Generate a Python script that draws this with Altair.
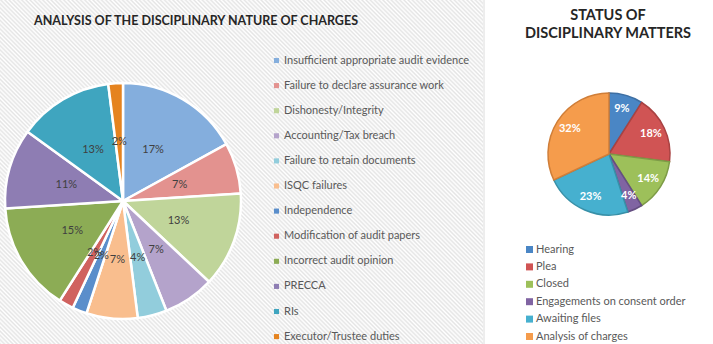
import altair as alt
import pandas as pd

# ---- data ----
left_title = "ANALYSIS OF THE DISCIPLINARY NATURE OF CHARGES"
left_categories = [
    "Insufficient appropriate audit evidence",
    "Failure to declare assurance work",
    "Dishonesty/Integrity",
    "Accounting/Tax breach",
    "Failure to retain documents",
    "ISQC failures",
    "Independence",
    "Modification of audit papers",
    "Incorrect audit opinion",
    "PRECCA",
    "RIs",
    "Executor/Trustee duties",
]
left_values = [17, 7, 13, 7, 4, 7, 2, 2, 15, 11, 13, 2]
left_colors = ["#84AEDD", "#E3928F", "#C0D59A", "#B4A3CB", "#92CDDC", "#F9BE8E",
               "#5A8ECB", "#D0625F", "#8CAC55", "#8E7DB3", "#3FA5BF", "#E5831F"]

right_title = ["STATUS OF", "DISCIPLINARY MATTERS"]
right_categories = ["Hearing", "Plea", "Closed", "Engagements on consent order",
                    "Awaiting files", "Analysis of charges"]
right_values = [9, 18, 14, 4, 23, 32]
right_colors = ["#4A86C5", "#D05454", "#9DC05A", "#8064A2", "#46B0CF", "#F59C4C"]
right_strokes = ["#3E6FA3", "#A94242", "#7E9C47", "#654F82", "#3790A8", "#D07E38"]

FONT = "Lato"

left_df = pd.DataFrame({
    "category": left_categories,
    "value": left_values,
    "idx": list(range(len(left_categories))),
    "label": [f"{v}%" for v in left_values],
})
right_df = pd.DataFrame({
    "category": right_categories,
    "value": right_values,
    "idx": list(range(len(right_categories))),
    "label": [f"{v}%" for v in right_values],
})

LCX, LCY, LR = 123, 201, 118
RCX, RCY, RR = 609, 154, 61

# diagonal hatch background (decorative), built as a striped gradient
N_STRIPES = 230
stops = []
for k in range(N_STRIPES):
    stops.append(alt.GradientStop(color="#ffffff", offset=k / N_STRIPES))
    stops.append(alt.GradientStop(color="#e4e4e4", offset=(k + 0.5) / N_STRIPES))
stops.append(alt.GradientStop(color="#ffffff", offset=1.0))
hatch_fill = alt.LinearGradient(gradient="linear", stops=stops, x1=0, y1=1, x2=1, y2=0)

hatch = alt.Chart(pd.DataFrame({"a": [0]})).mark_rect(
    fill=hatch_fill, strokeWidth=0
).encode(x=alt.value(0), x2=alt.value(483), y=alt.value(-70), y2=alt.value(413))

panel = alt.Chart(pd.DataFrame({"a": [0]})).mark_rect(
    fill="white", stroke="#dcdcdc", strokeWidth=1
).encode(x=alt.value(484), x2=alt.value(714), y=alt.value(-1), y2=alt.value(345))

left_pie = alt.Chart(left_df).mark_arc(
    outerRadius=LR, stroke="white", strokeWidth=2.5
).encode(
    theta=alt.Theta("value:Q", stack=True),
    color=alt.Color(
        "category:N",
        sort=left_categories,
        scale=alt.Scale(domain=left_categories, range=left_colors),
        legend=alt.Legend(
            title=None, orient="none", legendX=271, legendY=55,
            symbolType="square", symbolSize=26, symbolStrokeWidth=0,
            labelFont=FONT, labelFontSize=11, labelColor="#595959",
            labelOffset=2, rowPadding=13.1, padding=0, labelLimit=300,
        ),
    ),
    order=alt.Order("idx:Q"),
    x=alt.value(LCX), y=alt.value(LCY),
)

left_text = alt.Chart(left_df).mark_text(
    radius=LR * 0.5, font=FONT, fontSize=11, color="#404040"
).encode(
    theta=alt.Theta("value:Q", stack=True),
    order=alt.Order("idx:Q"),
    text="label:N",
    x=alt.value(LCX), y=alt.value(LCY),
)

right_pie = alt.Chart(right_df).mark_arc(
    outerRadius=RR, strokeWidth=1.5
).encode(
    theta=alt.Theta("value:Q", stack=True),
    color=alt.Color(
        "category:N",
        sort=right_categories,
        scale=alt.Scale(domain=right_categories, range=right_colors),
        legend=alt.Legend(
            title=None, orient="none", legendX=524, legendY=244,
            symbolType="square", symbolSize=49, symbolStrokeWidth=0,
            labelFont=FONT, labelFontSize=11, labelColor="#595959",
            labelOffset=1, rowPadding=5.4, padding=0, labelLimit=300,
        ),
    ),
    stroke=alt.Stroke(
        "category:N",
        scale=alt.Scale(domain=right_categories, range=right_strokes),
        legend=None,
    ),
    order=alt.Order("idx:Q"),
    x=alt.value(RCX), y=alt.value(RCY),
)

right_text = alt.Chart(right_df).mark_text(
    radius=RR * 0.76, font=FONT, fontSize=11, fontWeight="bold", color="white"
).encode(
    theta=alt.Theta("value:Q", stack=True),
    order=alt.Order("idx:Q"),
    text="label:N",
    x=alt.value(RCX), y=alt.value(RCY),
)

t1 = alt.Chart(pd.DataFrame({"t": [left_title]})).mark_text(
    font=FONT, fontSize=12.5, fontWeight="bold", color="#262626", baseline="alphabetic"
).encode(text="t:N", x=alt.value(196), y=alt.value(25))

t2 = alt.Chart(pd.DataFrame({"t": [right_title]})).mark_text(
    font=FONT, fontSize=14.5, fontWeight="bold", color="#262626",
    baseline="alphabetic", lineHeight=18
).encode(text="t:N", x=alt.value(608), y=alt.value(20))

chart = alt.layer(hatch, panel, left_pie, left_text, right_pie, right_text, t1, t2).resolve_scale(
    color="independent", theta="independent", stroke="independent"
).properties(
    width=713, height=344, padding=0, autosize=alt.AutoSizeParams(type="none"),
    background="#ffffff",
).configure_view(stroke=None)

chart.save("out.html", embed_options={"renderer": "svg", "actions": False})
